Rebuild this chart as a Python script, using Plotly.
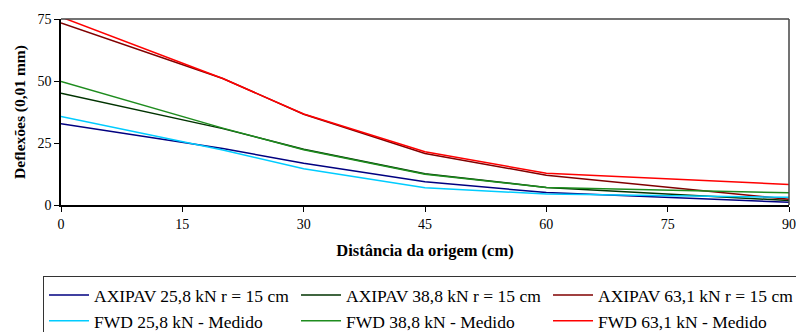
import plotly.graph_objects as go

# distances (cm)
x_dist = [0, 20, 30, 45, 60, 90]

series_names = [
    "AXIPAV 25,8 kN r = 15 cm",
    "AXIPAV 38,8 kN r = 15 cm",
    "AXIPAV 63,1 kN r = 15 cm",
    "FWD 25,8 kN - Medido",
    "FWD 38,8 kN - Medido",
    "FWD 63,1 kN - Medido",
]
axipav_25 = [32.8, 22.8, 16.8, 9.4, 5.0, 1.1]
axipav_38 = [45.1, 30.8, 22.5, 12.6, 7.1, 1.8]
axipav_63 = [73.4, 51.0, 36.6, 20.8, 12.0, 2.3]
fwd_25 = [35.7, 22.2, 14.6, 7.0, 4.4, 3.1]
fwd_38 = [49.8, 31.0, 22.3, 12.4, 7.1, 4.9]
fwd_63 = [75.8, 51.0, 36.7, 21.5, 12.8, 8.3]

x_ticks = [0, 15, 30, 45, 60, 75, 90]
y_ticks = [0, 25, 50, 75]

colors = ["#000080", "#003300", "#800000", "#00CCFF", "#1E8C1E", "#FF0000"]
values = [axipav_25, axipav_38, axipav_63, fwd_25, fwd_38, fwd_63]

FONT = "'Liberation Serif', 'Times New Roman', Times, serif"

fig = go.Figure()
for name, vals, col in zip(series_names, values, colors):
    fig.add_trace(go.Scatter(
        x=x_dist, y=vals, name=name, mode="lines",
        line=dict(color=col, width=1.5),
    ))

fig.update_layout(
    width=796, height=332,
    margin=dict(l=61, r=7, t=19, b=127, autoexpand=False),
    paper_bgcolor="white", plot_bgcolor="white",
    font=dict(family=FONT, color="black", size=14),
    showlegend=True,
    legend=dict(
        orientation="h",
        x=-0.0247, xanchor="left",
        y=-0.382, yanchor="top",
        bordercolor="#333333", borderwidth=1,
        font=dict(family=FONT, size=17.5, color="black"),
        entrywidth=197, entrywidthmode="pixels",
        itemwidth=40,
        tracegroupgap=0,
    ),
    xaxis=dict(
        range=[0, 90], tickvals=x_ticks, ticktext=[str(v) for v in x_ticks],
        showgrid=False, zeroline=False,
        showline=True, linecolor="black", linewidth=1.5,
        ticks="outside", ticklen=5, tickcolor="black",
        tickfont=dict(family=FONT, size=14),
        title=dict(text="<b>Distância da origem (cm)</b>",
                   font=dict(family=FONT, size=16.5), standoff=14),
    ),
    yaxis=dict(
        range=[0, 75], tickvals=y_ticks, ticktext=[str(v) for v in y_ticks],
        showgrid=False, zeroline=False,
        showline=True, linecolor="black", linewidth=1.5,
        ticks="outside", ticklen=5, tickcolor="black",
        tickfont=dict(family=FONT, size=14),
        title=dict(text="<b>Deflexões (0,01 mm)</b>",
                   font=dict(family=FONT, size=15.5), standoff=8),
    ),
    shapes=[
        dict(type="line", xref="paper", yref="paper", x0=0, x1=1, y0=1, y1=1,
             line=dict(color="#444444", width=1.5)),
        dict(type="line", xref="paper", yref="paper", x0=1, x1=1, y0=0, y1=1,
             line=dict(color="#444444", width=1.5)),
    ],
)

fig.write_html(
    "out.html",
    config={"displayModeBar": False},
    post_script="document.body.style.margin='0';document.body.style.overflow='hidden';",
)
